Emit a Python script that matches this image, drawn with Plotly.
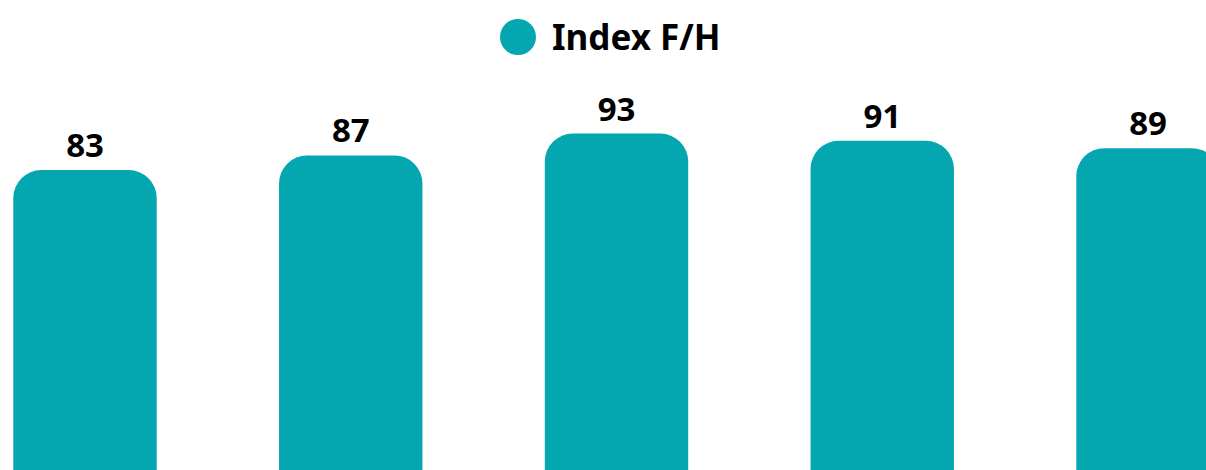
import plotly.graph_objects as go

categories = [0, 1, 2, 3, 4]
values = [83, 87, 93, 91, 89]
labels = ["83", "87", "93", "91", "89"]
series_name = "Index F/H"

W, H = 1206, 470
color = "#04A7B0"
pitch = 265.75
c0 = 85.0
px_per_unit = 3.65
zero_px = 473.0
FONT = "Noto Sans"

x_range = [(0 - c0) / pitch, (W - c0) / pitch]
y_range = [(zero_px - H) / px_per_unit, zero_px / px_per_unit]

fig = go.Figure()
fig.add_trace(go.Bar(
    x=categories, y=values, text=labels,
    textposition="outside", cliponaxis=False,
    width=143.4 / pitch,
    marker=dict(color=color, line=dict(width=0)),
    textfont=dict(family=FONT, size=33, color="#000000", weight="bold"),
    name=series_name, showlegend=False, hoverinfo="skip",
))

fig.add_shape(type="circle", xref="paper", yref="paper",
              x0=500 / W, x1=536 / W, y0=1 - 55 / H, y1=1 - 19 / H,
              fillcolor=color, line=dict(width=0))
fig.add_annotation(xref="paper", yref="paper", x=550 / W, y=1 - 37 / H,
                   xanchor="left", yanchor="middle", showarrow=False,
                   text="<b>" + series_name + "</b>",
                   font=dict(family=FONT, size=35, color="#000000"))

fig.update_layout(
    width=W, height=H,
    margin=dict(l=0, r=0, t=0, b=0),
    paper_bgcolor="white", plot_bgcolor="white",
    barcornerradius=28,
    showlegend=False,
    xaxis=dict(range=x_range, visible=False, fixedrange=True),
    yaxis=dict(range=y_range, visible=False, fixedrange=True),
)
fig.write_html("out.html", config={"displayModeBar": False},
               post_script="document.body.style.margin='0';document.body.style.overflow='hidden';")
